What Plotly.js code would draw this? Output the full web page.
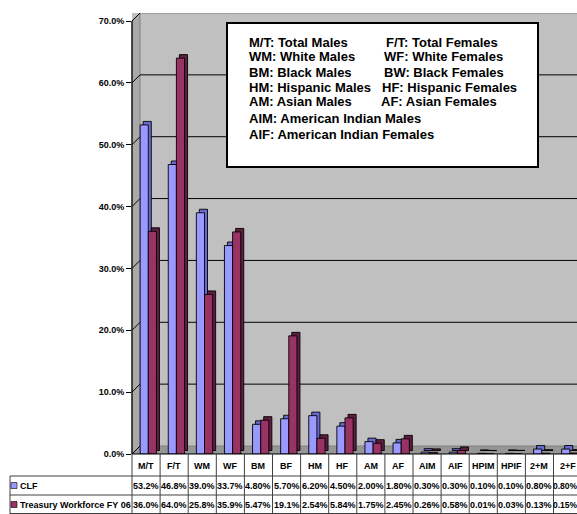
<!DOCTYPE html>
<html>
<head>
<meta charset="utf-8">
<script src="https://cdn.plot.ly/plotly-3.0.1.min.js"></script>
<style>html,body{margin:0;padding:0;background:#fff;}#chart{width:577px;height:514px;}</style>
</head>
<body>
<div id="chart"></div>
<script>
// ---- data ----
const categories = ['M/T','F/T','WM','WF','BM','BF','HM','HF','AM','AF','AIM','AIF','HPIM','HPIF','2+M','2+F'];
const clfValues = [53.2, 46.8, 39.0, 33.7, 4.80, 5.70, 6.20, 4.50, 2.00, 1.80, 0.30, 0.30, 0.10, 0.10, 0.80, 0.80];
const treasuryValues = [36.0, 64.0, 25.8, 35.9, 5.47, 19.1, 2.54, 5.84, 1.75, 2.45, 0.26, 0.58, 0.01, 0.03, 0.13, 0.15];
const seriesNames = ['CLF', 'Treasury Workforce FY 06'];
const yTickValues = [0, 10, 20, 30, 40, 50, 60, 70];
const boxLeftLines = ['M/T: Total Males','WM: White Males','BM: Black Males','HM: Hispanic Males','AM: Asian Males','AIM: American Indian Males','AIF: American Indian Females'];
const boxRightLines = ['F/T: Total Females','WF: White Females','BW: Black Females','HF: Hispanic Females','AF: Asian Females'];

// ---- geometry / style ----
const W = 577, H = 514;
const M = {l: 132, r: 0, t: 13, b: 60};
const plotW = W - M.l - M.r, plotH = H - M.t - M.b;
const colW = 28.1;
const yMax = 70 * plotH / 433;
const pxPerUnit = 433 / 70;
const wallDepth = 8 / pxPerUnit;   // back wall offset in y units
const barDepth = 3.5 / pxPerUnit;  // bar depth in y units
const px2x = px => (px - M.l) / plotW;
const py2y = py => (M.t + plotH - py) / plotH;
const FONT = 'Liberation Sans, Arial, Helvetica, sans-serif';
const BLUE = '#9999FF', BLUE_D = '#6A6AD0', MAROON = '#993366', MAROON_D = '#5E1F40';
const idx = categories.map((_, i) => i);
const fmt = v => (v >= 10 ? v.toFixed(1) : v.toFixed(2)) + '%';

const barW = 0.29, sideShift = 3 / colW;
function bar(vals, color, offset, base, name) {
  return {type: 'bar', x: idx, y: vals, base: base, offset: offset, width: barW, name: name,
    text: categories, hoverinfo: 'text+y', textposition: 'none',
    marker: {color: color, line: {color: '#000', width: 0.9}}};
}
const traces = [
  bar(clfValues, BLUE_D, -0.21 + sideShift, barDepth, seriesNames[0]),
  bar(clfValues, BLUE, -0.21, 0, seriesNames[0]),
  bar(treasuryValues, MAROON_D, 0.08 + sideShift, barDepth, seriesNames[1]),
  bar(treasuryValues, MAROON, 0.08, 0, seriesNames[1])
];

const shapes = [];
const wx = px2x(M.l + 8);
// left wall
shapes.push({type: 'path', xref: 'paper', yref: 'y', layer: 'below',
  path: `M 0,0 L 0,70 L ${wx},${70 + wallDepth} L ${wx},${wallDepth} Z`,
  fillcolor: '#A9A9A9', line: {color: '#808080', width: 1}});
// floor
shapes.push({type: 'path', xref: 'paper', yref: 'y', layer: 'below',
  path: `M 0,0 L ${wx},${wallDepth} L 1.05,${wallDepth} L 1.05,0 Z`,
  fillcolor: '#969696', line: {color: '#808080', width: 1}});
// back wall gridlines + diagonal connectors
yTickValues.forEach(v => {
  if (v > 0) {
    shapes.push({type: 'line', xref: 'paper', yref: 'y', layer: 'below', x0: wx, x1: 1.05,
      y0: v + wallDepth, y1: v + wallDepth, line: {color: v === 70 ? '#808080' : '#000', width: 1}});
  }
  shapes.push({type: 'line', xref: 'paper', yref: 'y', layer: 'below', x0: 0, x1: wx,
    y0: v, y1: v + wallDepth, line: {color: '#000', width: 1}});
});
// front axis line and floor edge
shapes.push({type: 'line', xref: 'paper', yref: 'y', x0: 0, x1: 0, y0: 0, y1: 70, line: {color: '#000', width: 1.2}});
shapes.push({type: 'line', xref: 'paper', yref: 'paper', x0: 0, x1: 1.05, y0: 0, y1: 0, line: {color: '#000', width: 1.2}});
// text box
shapes.push({type: 'rect', xref: 'paper', yref: 'paper', x0: px2x(227), x1: px2x(538), y0: py2y(167), y1: py2y(23),
  fillcolor: '#fff', line: {color: '#000', width: 2}});

// table grid
const TL = '#404040';
[476, 495, 513.5].forEach(py => shapes.push({type: 'line', xref: 'paper', yref: 'paper',
  x0: px2x(10), x1: 1.05, y0: py2y(py), y1: py2y(py), line: {color: TL, width: 1}}));
shapes.push({type: 'line', xref: 'paper', yref: 'paper', x0: px2x(10), x1: px2x(10),
  y0: py2y(476), y1: py2y(514), line: {color: TL, width: 1}});
for (let k = 0; k <= categories.length; k++) {
  const xx = px2x(M.l + k * colW);
  shapes.push({type: 'line', xref: 'paper', yref: 'paper', x0: xx, x1: xx,
    y0: py2y(454), y1: py2y(514), line: {color: TL, width: 1}});
}
// legend keys in table
[[BLUE, 485.5], [MAROON, 504.5]].forEach(([c, cy]) => shapes.push({type: 'rect', xref: 'paper', yref: 'paper',
  x0: px2x(11), x1: px2x(17), y0: py2y(cy + 3), y1: py2y(cy - 3), fillcolor: c, line: {color: '#000', width: 0.6}}));

const annotations = [];
const tfont = {family: FONT, size: 9, color: '#000', weight: 'bold'};
const lastFont = {family: FONT, size: 8.5, color: '#000', weight: 'bold'};
const last = categories.length - 1;
const lastLeft = M.l + last * colW;
categories.forEach((c, i) => {
  annotations.push({x: i, xref: 'x', xanchor: 'center', y: py2y(465.5), yref: 'paper', text: c, showarrow: false,
    yanchor: 'middle', font: tfont});
  // the last column is cut by the page edge: centre its values in the visible part
  const pos = i === last
    ? {x: px2x((lastLeft + W) / 2 + 0.3), xref: 'paper', xanchor: 'center', font: lastFont}
    : {x: i, xref: 'x', xanchor: 'center', font: tfont};
  annotations.push(Object.assign({y: py2y(485.5), yref: 'paper', text: fmt(clfValues[i]), showarrow: false,
    yanchor: 'middle'}, pos));
  annotations.push(Object.assign({y: py2y(504.5), yref: 'paper', text: fmt(treasuryValues[i]), showarrow: false,
    yanchor: 'middle'}, pos));
});
seriesNames.forEach((n, j) => annotations.push({x: px2x(18), xref: 'paper', y: py2y(j ? 504.5 : 485.5), yref: 'paper',
  text: n, showarrow: false, xanchor: 'left', yanchor: 'middle', font: tfont}));

const boxFont = {family: FONT, size: 13, color: '#000', weight: 'bold'};
const lineY = [42, 57, 72, 87, 102, 118, 134];
const rightX = [384, 382, 382, 380, 379];
boxLeftLines.forEach((t, i) => annotations.push({x: px2x(247), xref: 'paper', y: py2y(lineY[i]), yref: 'paper',
  text: t, showarrow: false, xanchor: 'left', yanchor: 'middle', font: boxFont}));
boxRightLines.forEach((t, i) => annotations.push({x: px2x(rightX[i]), xref: 'paper', y: py2y(lineY[i]), yref: 'paper',
  text: t, showarrow: false, xanchor: 'left', yanchor: 'middle', font: boxFont}));

const layout = {
  width: W, height: H, margin: M,
  paper_bgcolor: '#fff', plot_bgcolor: '#C0C0C0',
  barmode: 'overlay', showlegend: false,
  xaxis: {type: 'linear', range: [-0.5, -0.5 + plotW / colW], showgrid: false, zeroline: false,
    showticklabels: false, ticks: '', showline: false, fixedrange: true},
  yaxis: {range: [0, yMax], tickvals: yTickValues, ticktext: yTickValues.map(v => v.toFixed(1) + '%'),
    showgrid: false, zeroline: false, showline: false, ticks: 'outside', ticklen: 5, tickcolor: '#000',
    tickfont: {family: FONT, size: 9, color: '#000', weight: 'bold'}, fixedrange: true},
  shapes: shapes, annotations: annotations
};
Plotly.newPlot('chart', traces, layout, {displayModeBar: false, staticPlot: true});
</script>
</body>
</html>
